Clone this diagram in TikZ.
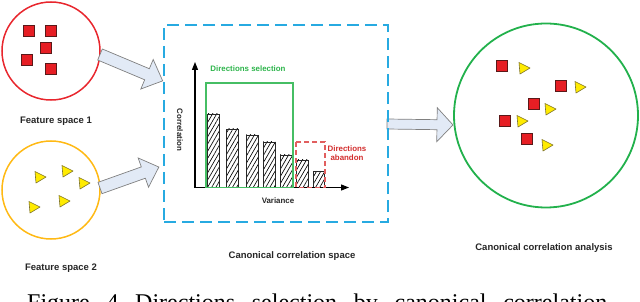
\documentclass[tikz,border=0pt]{standalone}
\usepackage{fontspec}
\setmainfont{Liberation Sans}
\newfontfamily\capfont{Liberation Serif}
\usetikzlibrary{patterns.meta,arrows.meta}
\definecolor{cblue}{RGB}{39,170,225}
\definecolor{cgreen}{RGB}{34,177,76}
\definecolor{rgreen}{RGB}{70,190,100}
\definecolor{cred}{RGB}{232,38,45}
\definecolor{corange}{RGB}{255,185,20}
\definecolor{sqred}{RGB}{230,30,36}
\definecolor{sqedge}{RGB}{90,25,25}
\definecolor{tyellow}{RGB}{255,235,0}
\definecolor{tedge}{RGB}{125,115,45}
\definecolor{afill}{RGB}{226,234,246}
\definecolor{aedge}{RGB}{128,128,128}
\definecolor{abred}{RGB}{225,95,95}
\definecolor{tred}{RGB}{210,45,45}
\definecolor{tgreen}{RGB}{45,180,75}
\begin{document}
\begin{tikzpicture}[x=1pt,y=-1pt,
  space/.style={circle,draw,line width=1.5pt,minimum size=98pt,inner sep=0pt},
  sq/.style={rectangle,draw=sqedge,fill=sqred,line width=0.8pt,minimum size=11pt,inner sep=0pt},
  tri/.style={draw=tedge,fill=tyellow,line width=0.6pt,line join=round},
  barrow/.style={draw=aedge,fill=afill,line width=0.7pt},
  lbl/.style={font=\bfseries\fontsize{9.5}{11}\selectfont,text=black!85,inner sep=0pt},
  slbl/.style={font=\bfseries\fontsize{7.9}{9}\selectfont,inner sep=0pt,align=center},
  bar/.style={draw=black!85,line width=0.8pt,pattern={Lines[angle=60,distance=3.6pt,line width=0.65pt]},pattern color=black},
  axis/.style={line width=1.2pt,-{Triangle[length=8pt,width=6pt]}}
]
\clip (0,0) rectangle (640,302);
% feature spaces
\node[space,draw=cred] (fs1) at (51,51) {};
\node[space,draw=corange] (fs2) at (51,190) {};
\node[sq] (a1) at (29,30.5) {};
\node[sq] (a2) at (50.5,30.5) {};
\node[sq] (a3) at (45.5,48) {};
\node[sq] (a4) at (26.5,60) {};
\node[sq] (a5) at (50.5,69) {};
\foreach \p in {(40,177),(67,171),(84,183),(34,207),(64,201)}{
  \draw[tri,shift={\p}] (-5,-5.5) -- (6,0) -- (-4,6) -- cycle;
}
\node[lbl] (l1) at (56,121) {Feature space 1};
\node[lbl] (l2) at (61,268) {Feature space 2};
% block arrows
\begin{scope}[shift={(100,54.5)},rotate=-22.8]
\draw[barrow] (0,-6) -- (51,-6) -- (51,-16) -- (68,0) -- (51,16) -- (51,6) -- (0,6) -- cycle;
\end{scope}
\begin{scope}[shift={(100,188)},rotate=19.6]
\draw[barrow] (0,-6) -- (46,-6) -- (46,-15.5) -- (62.5,0) -- (46,15.5) -- (46,6) -- (0,6) -- cycle;
\end{scope}
\begin{scope}[shift={(387,124)},rotate=-0.8]
\draw[barrow] (0,-5) -- (50,-5) -- (50,-17) -- (66,0) -- (50,17) -- (50,5) -- (0,5) -- cycle;
\end{scope}
% canonical correlation space
\node[draw=cblue,line width=1.8pt,dash pattern=on 12pt off 6pt,minimum width=224pt,minimum height=197pt,inner sep=0pt] (ccs) at (276,123.5) {};
\coordinate (O) at (195,187.5);
\coordinate (ytip) at (195,62);
\coordinate (xtip) at (349,187.5);
\draw[bar] (207,187.5) rectangle (219,114);
\draw[bar] (226.5,187.5) rectangle (238,129);
\draw[bar] (246,187.5) rectangle (258,135);
\draw[bar] (263,187.5) rectangle (275,142);
\draw[bar] (280,187.5) rectangle (292,155);
\draw[bar] (296.5,187.5) rectangle (308,160);
\draw[bar] (313,187.5) rectangle (324,171.5);
\draw[axis] (O) -- (ytip);
\draw[axis] (O) -- (xtip);
\draw[draw=rgreen,line width=1.3pt] (206,83) rectangle (293,187.5);
\draw[draw=abred,line width=1.2pt,dash pattern=on 5pt off 3pt] (296,142) rectangle (325,187.5);
\node[slbl,text=tgreen] (dsel) at (248,69) {Directions selection};
\node[slbl,text=tred] (dab) at (347,153.5) {Directions\\abandon};
\node[slbl,text=black!85,rotate=-90] (corr) at (180,130) {Correlation};
\node[slbl,text=black!85] (var) at (278,201) {Variance};
\node[lbl] (l3) at (292,256) {Canonical correlation space};
% canonical correlation analysis
\node[circle,draw=cgreen,line width=1.8pt,minimum size=184pt,inner sep=0pt] (cca) at (546,115.5) {};
\node[sq] (b1) at (502,66) {};
\node[sq] (b2) at (561,86) {};
\node[sq] (b3) at (534,104) {};
\node[sq] (b4) at (505,121) {};
\node[sq] (b5) at (527,139) {};
\foreach \p in {(524,68),(580,87),(550,109),(522,121),(547,145)}{
  \draw[tri,shift={\p}] (-5,-5.5) -- (6,0) -- (-4,6) -- cycle;
}
\node[lbl] (l4) at (544,248) {Canonical correlation analysis};
% caption (cut off at the lower edge, as in the reference)
\node[anchor=base west,inner sep=0pt,font=\capfont\fontsize{24}{28}\selectfont] (cap) at (27,310) {\makebox[580pt][s]{Figure 4 Directions selection by canonical correlation}};
\end{tikzpicture}
\end{document}
